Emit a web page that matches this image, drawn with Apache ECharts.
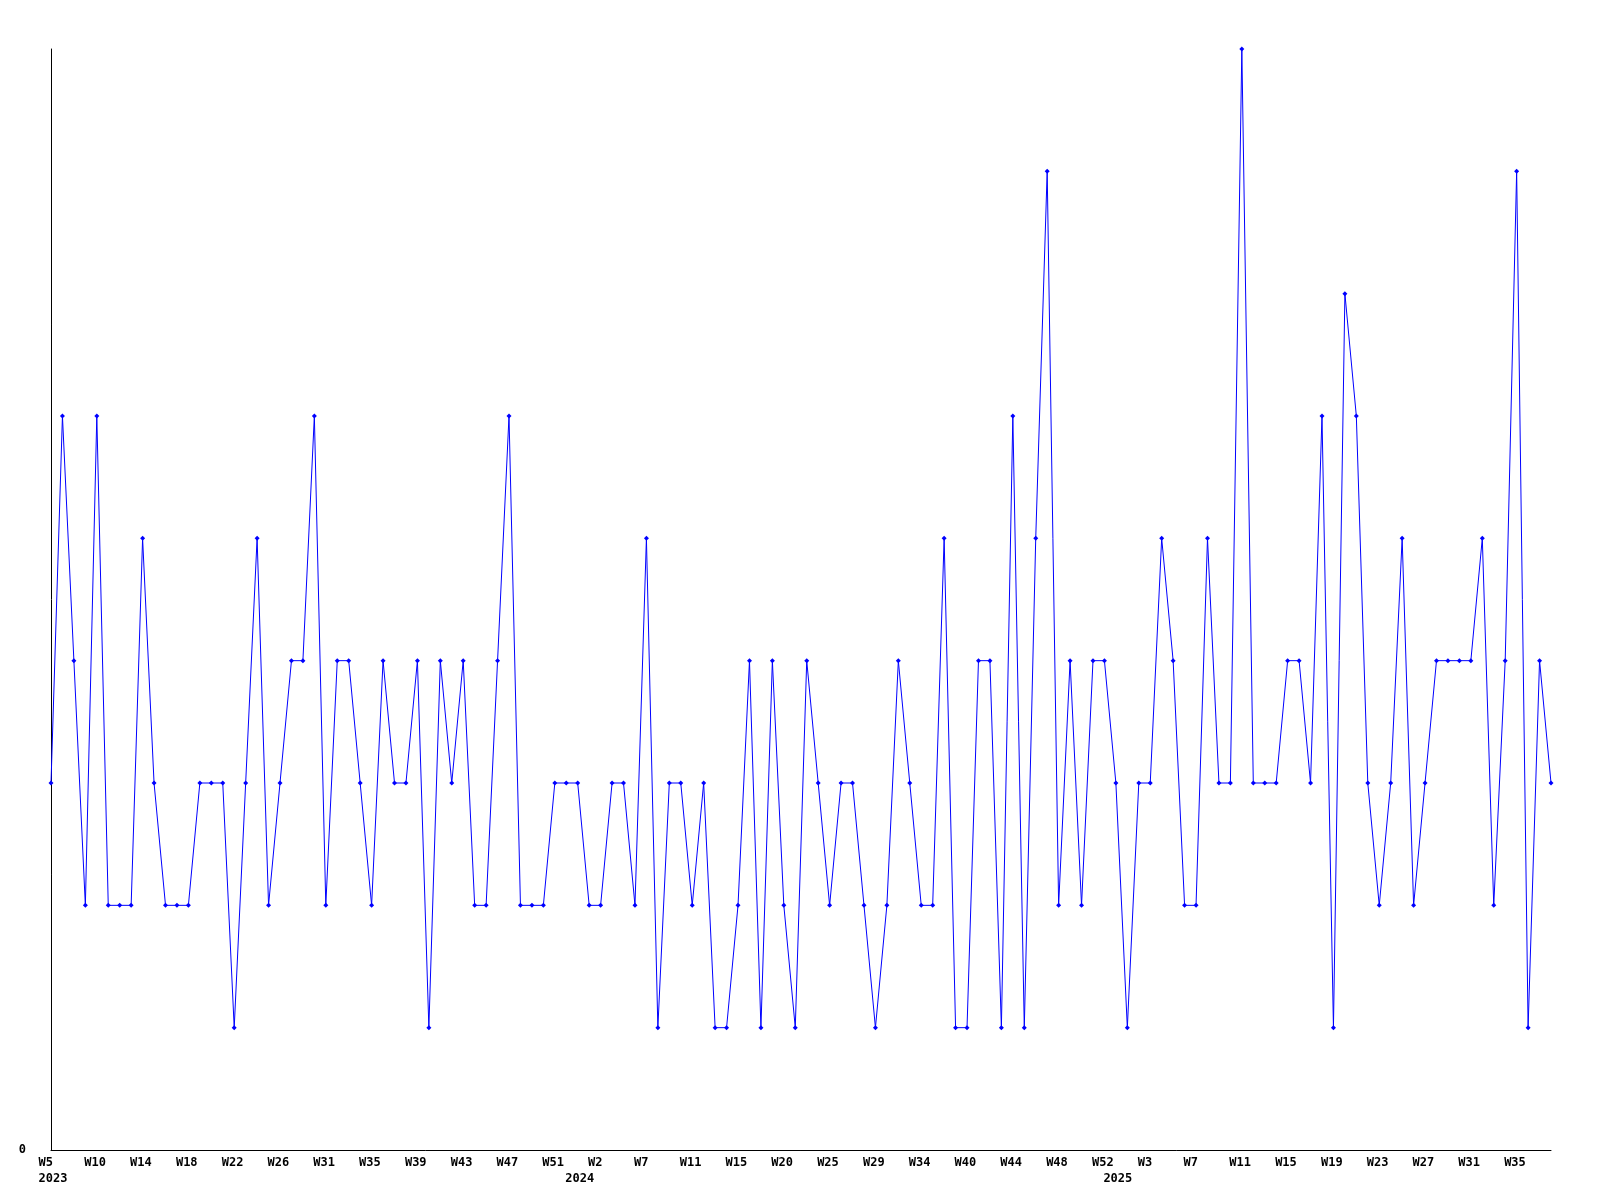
<!DOCTYPE html>
<html>
<head>
<meta charset="utf-8">
<script src="https://cdn.jsdelivr.net/npm/echarts@6/dist/echarts.min.js"></script>
<style>
html, body { margin: 0; padding: 0; background: #fff; }
#chart { width: 1600px; height: 1200px; }
</style>
</head>
<body>
<div id="chart"></div>
<script>
// Week categories (year-week), in the order of the data points
const weeks2023 = ['W5','W6','W7','W8','W10','W11','W12','W13','W14','W15','W16','W17','W18','W19','W20','W21','W22','W23','W24','W25','W26','W27','W28','W29','W31','W32','W33','W34','W35','W36','W37','W38','W39','W40','W41','W42','W43','W44','W45','W46','W47','W48','W49','W50','W51','W52'];
const weeks2024 = ['W0','W1','W2','W3','W4','W5','W7','W8','W9','W10','W11','W12','W13','W14','W15','W16','W17','W18','W20','W21','W22','W23','W25','W26','W27','W28','W29','W30','W31','W32','W34','W35','W36','W38','W40','W41','W42','W43','W44','W45','W46','W47','W48','W49','W50','W51','W52'];
const weeks2025 = ['W0','W1','W2','W3','W4','W5','W6','W7','W8','W9','W10','W11','W12','W13','W14','W15','W16','W17','W18','W19','W20','W21','W22','W23','W24','W25','W26','W27','W28','W29','W30','W31','W32','W33','W34','W35','W36','W37','W38'];

// Values, one per week category
const values = [
  3,6,4,2,6,2,2,2,5,3,
  2,2,2,3,3,3,1,3,5,2,
  3,4,4,6,2,4,4,3,2,4,
  3,3,4,1,4,3,4,2,2,4,
  6,2,2,2,3,3,3,2,2,3,
  3,2,5,1,3,3,2,3,1,1,
  2,4,1,4,2,1,4,3,2,3,
  3,2,1,2,4,3,2,2,5,1,
  1,4,4,1,6,1,5,8,2,4,
  2,4,4,3,1,3,3,5,4,2,
  2,5,3,3,9,3,3,3,4,4,
  3,6,1,7,6,3,2,3,5,2,
  3,4,4,4,4,5,2,4,8,1,
  4,3
];

const yMin = 0;
const yMax = 9;

const categories = []
  .concat(weeks2023.map(w => '2023-' + w))
  .concat(weeks2024.map(w => '2024-' + w))
  .concat(weeks2025.map(w => '2025-' + w));

const yearStarts = {};
categories.forEach((c, i) => {
  const y = c.split('-')[0];
  if (!(y in yearStarts)) yearStarts[y] = i;
});
const yearStartIdx = Object.values(yearStarts);

const font = { fontFamily: 'DejaVu Sans Mono', fontWeight: 'bold', fontSize: 12, color: '#000' };

const chart = echarts.init(document.getElementById('chart'), null, { renderer: 'canvas' });
chart.setOption({
  animation: false,
  backgroundColor: '#ffffff',
  grid: { left: 51, right: 49, top: 49, bottom: 50, containLabel: false },
  xAxis: [
    {
      type: 'category',
      data: categories,
      boundaryGap: false,
      axisLine: { show: true, lineStyle: { color: '#000', width: 1 } },
      axisTick: { show: false },
      splitLine: { show: false },
      axisLabel: Object.assign({}, font, {
        interval: 3,
        margin: 7,
        align: 'center',
        formatter: v => '{w|' + v.split('-')[1] + '}',
        rich: { w: Object.assign({}, font, { width: 25, align: 'left' }) }
      })
    },
    {
      type: 'category',
      data: categories,
      boundaryGap: false,
      position: 'bottom',
      axisLine: { show: false },
      axisTick: { show: false },
      splitLine: { show: false },
      axisLabel: Object.assign({}, font, {
        interval: (i) => yearStartIdx.indexOf(i) >= 0,
        margin: 23,
        align: 'center',
        formatter: v => '{w|' + v.split('-')[0] + '}',
        rich: { w: Object.assign({}, font, { width: 25, align: 'left' }) }
      })
    }
  ],
  yAxis: {
    type: 'value',
    min: yMin,
    max: yMax,
    interval: 9,
    axisLine: { show: true, lineStyle: { color: '#000', width: 1 } },
    axisTick: { show: false },
    splitLine: { show: false },
    axisLabel: Object.assign({}, font, { margin: 25, showMaxLabel: false })
  },
  series: [{
    type: 'line',
    xAxisIndex: 0,
    data: values,
    symbol: 'diamond',
    symbolSize: 5,
    showAllSymbol: true,
    lineStyle: { color: '#0000ff', width: 1 },
    itemStyle: { color: '#0000ff' }
  }]
});
</script>
</body>
</html>
